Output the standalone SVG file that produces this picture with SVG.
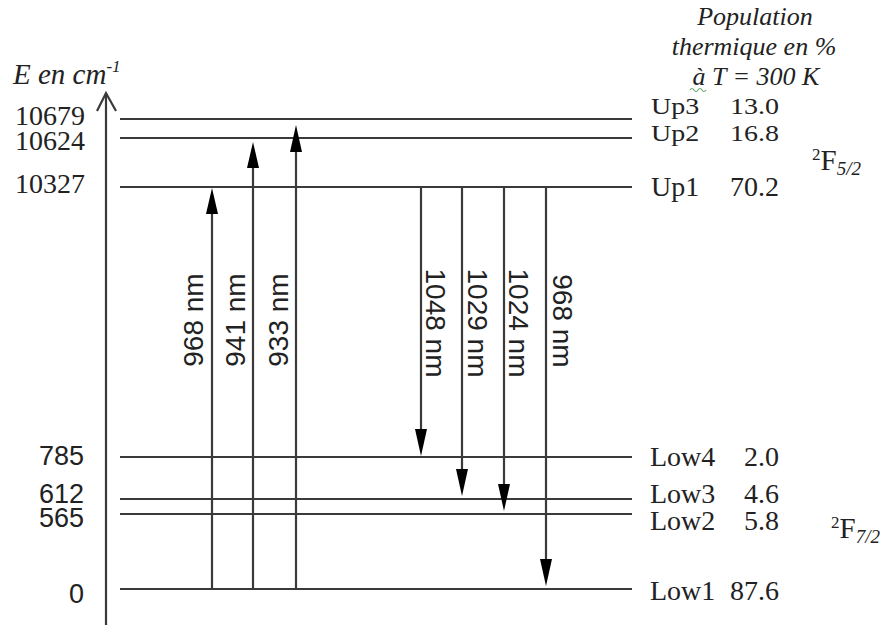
<svg xmlns="http://www.w3.org/2000/svg" width="887" height="628" viewBox="0 0 887 628">
<style>
.lvl{stroke:#3a3a3a;stroke-width:2.2;fill:none}
.arr{stroke:#3a3a3a;stroke-width:2.2;fill:none}
.head{fill:#000}
.serif{font-family:"Liberation Serif","Times New Roman",serif;fill:#222}
.it{font-style:italic}
.sans{font-family:"Liberation Sans",Arial,sans-serif;fill:#222}
.wl{font-family:"Liberation Sans",Arial,sans-serif;font-size:28px;fill:#222;text-anchor:middle}
</style>
<rect width="887" height="628" fill="#fff"/>
<g id="axis">
<line x1="106" y1="625" x2="106" y2="94" class="arr"/>
<polyline points="97,111 106,93 116,111" class="arr"/>
<text x="13" y="84" class="serif it" font-size="29">E en cm<tspan font-size="17" dy="-12">-1</tspan></text>
</g>
<g id="title" class="serif it" font-size="26" text-anchor="middle">
<text x="755" y="25">Population</text>
<text x="754" y="55">thermique en %</text>
<text x="756" y="85">à T = 300 K</text>
<path d="M690,90 q2,-3 4,0 t4,0 t4,0 t4,0" stroke="#6a6" stroke-width="1.2" fill="none"/>
</g>
<g id="Up3">
<line x1="120" y1="119" x2="632" y2="119" class="lvl"/>
<text x="85" y="125" class="serif" font-size="28" text-anchor="end">10679</text>
<text transform="translate(651,114) scale(1,0.8)" class="serif" font-size="28">Up3</text>
<text transform="translate(779,114) scale(1,0.8)" class="serif" font-size="28" text-anchor="end">13.0</text>
</g>
<g id="Up2">
<line x1="120" y1="138" x2="632" y2="138" class="lvl"/>
<text x="85" y="150" class="serif" font-size="28" text-anchor="end">10624</text>
<text transform="translate(651,141) scale(1,0.8)" class="serif" font-size="28">Up2</text>
<text transform="translate(779,141) scale(1,0.8)" class="serif" font-size="28" text-anchor="end">16.8</text>
</g>
<g id="Up1">
<line x1="120" y1="187" x2="632" y2="187" class="lvl"/>
<text x="85" y="193" class="serif" font-size="28" text-anchor="end">10327</text>
<text x="651" y="196" class="serif" font-size="28">Up1</text>
<text x="779" y="196" class="serif" font-size="28" text-anchor="end">70.2</text>
</g>
<g id="F52">
<text x="812" y="170" class="serif" font-size="29"><tspan font-size="17" dy="-10">2</tspan><tspan dy="10">F</tspan><tspan font-size="19" font-style="italic" dy="5">5/2</tspan></text>
</g>
<g id="Low4">
<line x1="120" y1="457" x2="632" y2="457" class="lvl"/>
<text x="84" y="465" class="sans" font-size="27" text-anchor="end">785</text>
<text x="650" y="466" class="serif" font-size="28">Low4</text>
<text x="779" y="466" class="serif" font-size="28" text-anchor="end">2.0</text>
</g>
<g id="Low3">
<line x1="120" y1="499" x2="632" y2="499" class="lvl"/>
<text x="84" y="503" class="sans" font-size="27" text-anchor="end">612</text>
<text x="650" y="503" class="serif" font-size="28">Low3</text>
<text x="779" y="503" class="serif" font-size="28" text-anchor="end">4.6</text>
</g>
<g id="Low2">
<line x1="120" y1="514" x2="632" y2="514" class="lvl"/>
<text x="84" y="527" class="sans" font-size="27" text-anchor="end">565</text>
<text x="650" y="530" class="serif" font-size="28">Low2</text>
<text x="779" y="530" class="serif" font-size="28" text-anchor="end">5.8</text>
</g>
<g id="Low1">
<line x1="120" y1="589" x2="632" y2="589" class="lvl"/>
<text x="84" y="603" class="sans" font-size="27" text-anchor="end">0</text>
<text x="650" y="600" class="serif" font-size="28">Low1</text>
<text x="779" y="600" class="serif" font-size="28" text-anchor="end">87.6</text>
</g>
<g id="F72">
<text x="831" y="538" class="serif" font-size="29"><tspan font-size="17" dy="-10">2</tspan><tspan dy="10">F</tspan><tspan font-size="19" font-style="italic" dy="5">7/2</tspan></text>
</g>
<g id="connectors">
<line x1="212" y1="589" x2="212" y2="210" class="arr"/>
<polygon points="212,188 206,214 218,214" class="head"/>
<line x1="253" y1="589" x2="253" y2="165" class="arr"/>
<polygon points="253,142 247,168 259,168" class="head"/>
<line x1="296" y1="589" x2="296" y2="148" class="arr"/>
<polygon points="296,125 290,152 302,152" class="head"/>
<line x1="421" y1="187" x2="421" y2="432" class="arr"/>
<polygon points="421,456 415,429 427,429" class="head"/>
<line x1="462" y1="187" x2="462" y2="472" class="arr"/>
<polygon points="462,496 456,469 468,469" class="head"/>
<line x1="504" y1="187" x2="504" y2="487" class="arr"/>
<polygon points="504,511 498,484 510,484" class="head"/>
<line x1="546" y1="187" x2="546" y2="562" class="arr"/>
<polygon points="546,586 540,559 552,559" class="head"/>
</g>
<g id="wavelengths">
<text class="wl" transform="translate(203,320) rotate(-90)">968 nm</text>
<text class="wl" transform="translate(245,320) rotate(-90)">941 nm</text>
<text class="wl" transform="translate(288,320) rotate(-90)">933 nm</text>
<text class="wl" transform="translate(426,323) rotate(90)">1048 nm</text>
<text class="wl" transform="translate(468,323) rotate(90)">1029 nm</text>
<text class="wl" transform="translate(509,323) rotate(90)">1024 nm</text>
<text class="wl" transform="translate(553,321) rotate(90)">968 nm</text>
</g>
</svg>
